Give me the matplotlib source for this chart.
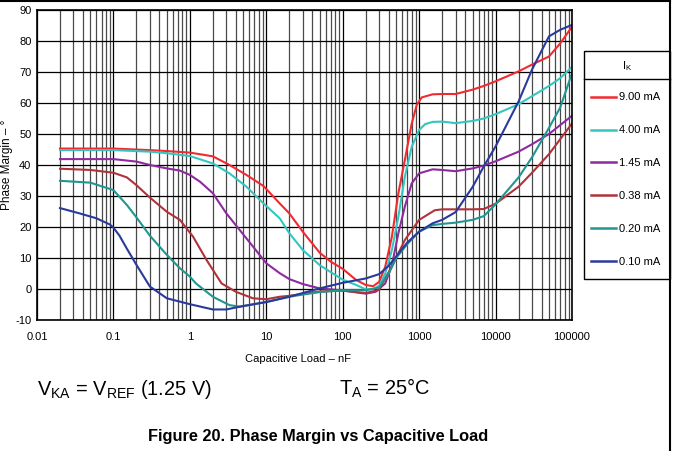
import matplotlib
matplotlib.use('Agg')
import matplotlib.pyplot as plt
from matplotlib.ticker import LogLocator, NullFormatter, FixedLocator, FixedFormatter
from matplotlib.lines import Line2D
from matplotlib.patches import Rectangle

plt.rcParams['font.family'] = ['Liberation Sans', 'DejaVu Sans']
plt.rcParams['mathtext.fontset'] = 'custom'
plt.rcParams['mathtext.rm'] = 'Liberation Sans'
plt.rcParams['mathtext.it'] = 'Liberation Sans:italic'
plt.rcParams['mathtext.bf'] = 'Liberation Sans:bold'
plt.rcParams['axes.unicode_minus'] = False

# Phase margin (deg) vs capacitive load (nF)
x_900 = [0.02, 0.1, 0.3, 0.5, 1, 2, 3.3, 5.5, 9.2, 15, 20, 30, 50, 70, 100, 150, 200, 250, 300,
         360, 440, 535, 650, 800, 930, 1080, 1500, 2000, 3000, 5000, 7000, 10000, 20000, 30000,
         50000, 70000, 100000]
pm_900 = [45.3, 45.3, 44.8, 44.5, 44.0, 42.8, 40.0, 36.8, 33.2, 27.6, 24.4, 18.5, 11.7, 8.8, 6.5,
          2.9, 1.3, 0.9, 2.3, 7.2, 16.9, 30.9, 41.6, 53.4, 59.4, 61.8, 62.8, 62.9, 62.9, 64.3, 65.5,
          67.0, 70.2, 72.4, 75.0, 79.2, 84.6]

x_400 = [0.02, 0.1, 0.3, 0.5, 1, 2, 3.3, 5.5, 9.2, 15, 20, 30, 50, 100, 150, 200, 250, 300, 360,
         440, 535, 650, 800, 1000, 1200, 1500, 2000, 3000, 5000, 7000, 10000, 20000, 30000, 50000,
         70000, 100000]
pm_400 = [44.8, 44.8, 44.3, 43.8, 42.9, 40.5, 37.3, 33.0, 27.6, 22.8, 18.0, 12.6, 7.7, 3.0, 1.3,
          -0.1, 0.0, 1.0, 5.0, 12.6, 23.3, 36.2, 45.9, 51.3, 53.2, 53.9, 54.0, 53.5, 54.2, 55.0,
          56.4, 59.6, 62.2, 65.5, 68.0, 71.6]

x_145 = [0.02, 0.1, 0.2, 0.3, 0.5, 0.74, 1, 1.36, 2, 3, 4.5, 6.7, 10, 15, 20, 30, 50, 100, 200,
         270, 360, 440, 535, 650, 800, 1000, 1500, 2000, 3000, 5000, 7000, 10000, 20000, 30000,
         50000, 100000]
pm_145 = [41.9, 41.9, 41.1, 40.0, 38.9, 38.2, 36.8, 34.6, 30.9, 24.4, 19.0, 13.7, 8.3, 5.1, 3.2,
          1.6, 0.2, -0.5, -1.5, -0.9, 1.8, 7.7, 18.0, 26.6, 34.1, 37.3, 38.6, 38.4, 38.0, 38.9,
          39.8, 41.2, 44.3, 46.7, 50.0, 55.9]

x_038 = [0.02, 0.05, 0.1, 0.15, 0.2, 0.3, 0.5, 0.74, 1.1, 1.65, 2.6, 4, 6.7, 10, 15, 20, 30, 50,
         100, 200, 300, 360, 440, 650, 1000, 1600, 2000, 3000, 5000, 7000, 10000, 20000, 30000,
         50000, 100000]
pm_038 = [38.8, 38.4, 37.5, 36.0, 33.5, 29.5, 24.9, 22.3, 16.9, 9.4, 1.8, -0.9, -3.0, -3.3, -2.5,
          -2.2, -1.6, -0.8, -0.5, -1.3, -0.3, 3.5, 7.2, 15.8, 22.3, 25.4, 25.7, 25.7, 25.7, 25.8,
          27.5, 33.0, 37.5, 43.5, 53.4]

x_020 = [0.02, 0.05, 0.1, 0.15, 0.2, 0.3, 0.5, 0.74, 1, 1.2, 2, 3.3, 4.5, 10, 20, 30, 50, 100,
         200, 300, 400, 500, 700, 1000, 1500, 2000, 3000, 5000, 7000, 10000, 20000, 30000, 50000,
         70000, 100000]
pm_020 = [34.9, 34.3, 31.9, 27.1, 23.1, 17.2, 11.0, 6.7, 4.0, 1.8, -2.5, -5.2, -5.7, -4.2, -2.5,
          -1.8, -1.0, -0.4, -0.4, 0.5, 5.0, 10.0, 14.5, 18.5, 20.6, 21.0, 21.4, 22.3, 23.5, 27.3,
          36.0, 42.5, 52.0, 58.5, 69.6]

x_010 = [0.02, 0.036, 0.06, 0.09, 0.1, 0.12, 0.15, 0.2, 0.3, 0.5, 1, 2, 3, 4.5, 10, 20, 50, 100,
         200, 300, 400, 500, 700, 1000, 1500, 2000, 3000, 5000, 7000, 10000, 20000, 30000, 50000,
         70000, 100000]
pm_010 = [26.1, 24.4, 22.8, 20.8, 19.8, 17.2, 13.0, 7.8, 0.8, -3.0, -4.9, -6.6, -6.6, -5.7, -4.2,
          -2.5, 0.2, 2.0, 3.4, 4.8, 7.5, 10.5, 15.0, 18.5, 21.2, 22.3, 24.8, 32.9, 39.5, 46.0, 60.5,
          70.8, 81.5, 83.6, 85.2]

series = [
    ('9.00 mA', x_900, pm_900, '#f22a30'),
    ('4.00 mA', x_400, pm_400, '#33c6c0'),
    ('1.45 mA', x_145, pm_145, '#8e2aa0'),
    ('0.38 mA', x_038, pm_038, '#b0323a'),
    ('0.20 mA', x_020, pm_020, '#219690'),
    ('0.10 mA', x_010, pm_010, '#2a3a9c'),
]

x_ticks = [0.01, 0.1, 1, 10, 100, 1000, 10000, 100000]
x_tick_labels = ['0.01', '0.1', '1', '10', '100', '1000', '10000', '100000']
y_ticks = list(range(-10, 91, 10))

W, H = 673, 451


def fx(px):
    return px / W


def fy(py):
    return 1 - py / H


fig = plt.figure(figsize=(W / 100, H / 100), dpi=100)
ax = fig.add_axes([fx(37), fy(320), (572 - 37) / W, 310 / H])

for label, xs, ys, col in series:
    ax.plot(xs, ys, color=col, lw=1.5, label=label)

ax.set_xscale('log')
ax.set_xlim(0.01, 100000)
ax.set_ylim(-10, 90)
ax.xaxis.set_major_locator(FixedLocator(x_ticks))
ax.xaxis.set_major_formatter(FixedFormatter(x_tick_labels))
ax.xaxis.set_minor_locator(LogLocator(base=10, subs=range(2, 10), numticks=20))
ax.xaxis.set_minor_formatter(NullFormatter())
ax.set_yticks(y_ticks)
ax.tick_params(which='both', length=0, labelsize=8)
ax.tick_params(axis='x', pad=9)
ax.tick_params(axis='y', pad=4)

ax.grid(which='major', axis='both', color='black', lw=0.9)
ax.grid(which='minor', axis='x', color='#4a4a4a', lw=0.9)
ax.set_axisbelow(True)
for sp in ax.spines.values():
    sp.set_linewidth(1.2)
    sp.set_color('black')

fig.text(fx(298), fy(362), 'Capacitive Load \u2013 nF', fontsize=8, ha='center', va='baseline')
fig.text(fx(7), fy(165), 'Phase Margin \u2013 \u00b0', fontsize=8.5, rotation=90,
         ha='center', va='center')

# legend: box, header and entries
fig.add_artist(Rectangle((fx(584), fy(278.5)), (670 - 584) / W, (278.5 - 51) / H,
                         transform=fig.transFigure, facecolor='white', edgecolor='black', lw=1.0))
fig.add_artist(Line2D([fx(584), fx(670)], [fy(79), fy(79)], color='black', lw=1.0))
fig.text(fx(627), fy(66), r'I$_\mathrm{K}$', fontsize=8, ha='center', va='center')
leg = fig.legend(loc='upper left', bbox_to_anchor=(fx(591), fy(92.5)), fontsize=8,
                 frameon=False, labelspacing=2.06, handlelength=2.25, handletextpad=0.27,
                 borderpad=0, borderaxespad=0)
for h in leg.legend_handles:
    h.set_linewidth(1.8)

# page frame (top and right edges)
fig.add_artist(Line2D([0, fx(670)], [fy(0.7), fy(0.7)], color='black', lw=1.5))
fig.add_artist(Line2D([fx(670), fx(670)], [0, 1], color='black', lw=1.5))

fig.text(fx(37), fy(395), r'V$_\mathrm{KA}$ = V$_\mathrm{REF}$ (1.25 V)', fontsize=14.4,
         ha='left', va='baseline')
fig.text(fx(339), fy(395), 'T$_\\mathrm{A}$ = 25\u00b0C', fontsize=14.4,
         ha='left', va='baseline')
fig.text(fx(148), fy(441.5), 'Figure 20. Phase Margin vs Capacitive Load', fontsize=11.8,
         fontweight='bold', ha='left', va='baseline')

fig.savefig('out.png', dpi=100)
